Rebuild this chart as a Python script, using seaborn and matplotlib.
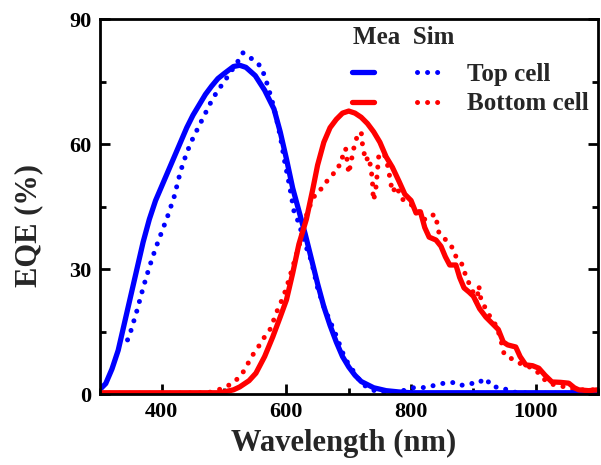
import matplotlib
matplotlib.use("Agg")
import matplotlib.pyplot as plt
from matplotlib.lines import Line2D
from matplotlib.ticker import MultipleLocator
import seaborn as sns
import pandas as pd

# Top cell, measured EQE
top_mea_wl = [300, 310, 320, 330, 340, 350, 360, 370, 380, 390, 400, 410, 420, 430, 440,
              450, 460, 470, 480, 490, 500, 515, 525, 535, 550, 565, 580, 590, 600, 610,
              620, 630, 640, 650, 660, 670, 680, 690, 700, 710, 720, 740, 760, 780, 800,
              900, 1000, 1100]
top_mea_eqe = [1, 2.5, 6, 10.5, 17, 23.5, 30, 36.5, 42, 46.5, 50, 53.5, 57, 60.5, 64,
               67, 69.5, 72, 74, 75.8, 77, 78.7, 79, 78.5, 76.5, 73, 68.5, 63, 56.5, 49.5,
               44, 38.5, 32.5, 26.5, 21, 16.5, 12.5, 9, 6.5, 4.5, 3, 1.5, 0.8, 0.5, 0.3,
               0.3, 0.3, 0.3]

# Top cell, simulated EQE
top_sim_wl = [345, 350, 360, 370, 380, 390, 400, 410, 420, 430, 440, 450, 460, 470, 480,
              490, 500, 510, 520, 530, 540, 550, 560, 568, 576, 582, 590, 597, 605, 612,
              620, 630, 640, 650, 660, 670, 680, 690, 700, 710, 720, 736, 752, 770, 793,
              808, 824, 840, 853, 866, 879, 893, 906, 919, 931, 946, 960, 980, 1000, 1100]
top_sim_eqe = [13, 15, 20, 25.5, 30.5, 35, 39, 43, 47.5, 53.5, 58, 61.5, 64.5, 67.5, 70.5,
               73, 75, 77.3, 79.4, 82, 81, 80, 78.5, 75, 71, 67.5, 62, 56, 50, 44,
               41, 36, 32, 25.5, 21, 17.5, 14, 10, 7, 5, 2.6, 1, 0.5, 0.3, 1,
               1.7, 1.5, 2.2, 2.6, 2.8, 2, 2.6, 2.4, 3.8, 1.7, 1.6, 0.5, 0.3, 0.2, 0.2]

# Bottom cell, measured EQE
bot_mea_wl = [300, 400, 490, 500, 515, 525, 540, 551, 565, 578, 590, 600, 610, 620, 632,
              642, 650, 660, 670, 680, 690, 700, 710, 720, 730, 740, 750, 760, 770, 781,
              790, 800, 808, 815, 822, 829, 840, 848, 855, 862, 872, 878, 885, 893, 900,
              910, 920, 930, 940, 948, 955, 968, 975, 984, 995, 1005, 1015, 1026, 1040,
              1053, 1062, 1069, 1085, 1100]
bot_mea_eqe = [0.3, 0.3, 0.3, 0.5, 1, 1.7, 3.2, 5, 9, 13.7, 18.5, 22.6, 29, 36, 42,
               49, 55, 60.5, 64, 66, 67.5, 68, 67.5, 66.5, 65, 63, 60.5, 57, 54.5, 51,
               48, 46.5, 43.5, 43.8, 40, 37.7, 37, 35.5, 33, 31, 31, 28, 25.5, 24.5, 23.5,
               20.5, 18.5, 17, 15.5, 12.5, 11.8, 11.3, 9, 7, 6.8, 6.2, 4.5, 2.9, 2.8,
               2.6, 1.5, 1, 0.8, 1]

# Bottom cell, simulated EQE
bot_sim_wl = [300, 400, 470, 481, 498, 514, 528, 537, 546, 557, 566, 576, 581, 588, 594,
              600, 605, 613, 621, 629, 634, 640, 648, 658, 664, 674, 680, 687, 690, 695,
              700, 704, 708, 713, 720, 722, 727, 732, 736, 738, 739, 740, 744, 748, 756,
              761, 766, 770, 777, 784, 795, 805, 813, 820, 828, 835, 840, 842, 845, 856,
              862, 869, 872, 880, 885, 887, 895, 901, 905, 909, 910, 914, 920, 925, 930,
              938, 944, 949, 955, 960, 970, 980, 990, 1000, 1010, 1021, 1035, 1048, 1064,
              1080, 1100]
bot_sim_eqe = [0.2, 0.2, 0.3, 0.5, 1.4, 2.6, 4.6, 7, 9.4, 11.8, 14, 16, 18.5, 21, 23,
               25.5, 28, 32, 36, 41, 44, 46, 48.5, 49.5, 51, 52.5, 54.5, 55, 57, 59,
               53, 56, 59, 61.7, 63, 60, 56, 57, 54, 51, 48, 46.5, 50, 57, 58,
               56, 52, 48.5, 50, 47, 46, 45, 43.7, 42, 42, 43, 43, 40.6, 38.6, 37,
               36, 34.6, 33, 31.5, 30.5, 28.5, 26, 24, 22, 26, 24, 22, 20.5, 19, 18,
               16, 13, 9.8, 9.5, 8.6, 7.7, 7, 6.5, 5.8, 4, 2.6, 2, 1.7, 1,
               1, 1]

BLUE = "#0000ff"
RED = "#ff0000"
FONT = "Liberation Serif"

sns.set_theme(style="ticks")
plt.rcParams["font.family"] = [FONT, "DejaVu Serif"]
plt.rcParams["font.weight"] = "bold"

fig = plt.figure(figsize=(6.01, 4.65), dpi=100)
ax = fig.add_axes([99.5 / 601, 1 - 394 / 465, (598 - 99.5) / 601, (394 - 19.5) / 465])

dot_style = dict(lw=3.6, linestyle=(0, (0.01, 2.0)), dash_capstyle="round")
solid_style = dict(lw=3.8, solid_capstyle="round")

frames = {
    "top_mea": pd.DataFrame({"wl": top_mea_wl, "eqe": top_mea_eqe}),
    "top_sim": pd.DataFrame({"wl": top_sim_wl, "eqe": top_sim_eqe}),
    "bot_mea": pd.DataFrame({"wl": bot_mea_wl, "eqe": bot_mea_eqe}),
    "bot_sim": pd.DataFrame({"wl": bot_sim_wl, "eqe": bot_sim_eqe}),
}

sns.lineplot(data=frames["top_sim"], x="wl", y="eqe", color=BLUE, ax=ax, sort=False, **dot_style)
sns.lineplot(data=frames["bot_sim"], x="wl", y="eqe", color=RED, ax=ax, sort=False, **dot_style)
sns.lineplot(data=frames["top_mea"], x="wl", y="eqe", color=BLUE, ax=ax, sort=False, **solid_style)
sns.lineplot(data=frames["bot_mea"], x="wl", y="eqe", color=RED, ax=ax, sort=False, **solid_style)

ax.set_xlim(300, 1100)
ax.set_ylim(0, 90)
ax.set_xticks([400, 600, 800, 1000])
ax.xaxis.set_minor_locator(MultipleLocator(100))
ax.yaxis.set_major_locator(MultipleLocator(30))
ax.yaxis.set_minor_locator(MultipleLocator(15))
ax.tick_params(which="both", direction="in", width=2, right=True, top=False,
               labelsize=16, pad=6, colors="black")
ax.tick_params(which="major", length=7)
ax.tick_params(which="minor", length=4.5)
for lab in ax.get_xticklabels() + ax.get_yticklabels():
    lab.set_fontweight("bold")
for sp in ax.spines.values():
    sp.set_visible(True)
    sp.set_linewidth(2)
    sp.set_color("black")

ax.set_xlabel("Wavelength (nm)", fontsize=22, fontweight="bold")
ax.xaxis.set_label_coords(0.4895, -0.094)
ax.set_ylabel("EQE (%)", fontsize=22, fontweight="bold")
ax.yaxis.set_label_coords(-0.113, 0.449)

# Column headers: measured / simulated
ax.text(0.5085, 0.953, "Mea  Sim", transform=ax.transAxes, ha="left", va="center",
        fontsize=18, fontweight="bold", family=FONT)

handles = [
    Line2D([], [], color=BLUE, **solid_style),
    Line2D([], [], color=RED, **solid_style),
    Line2D([], [], color=BLUE, **dot_style),
    Line2D([], [], color=RED, **dot_style),
]
labels = ["", "", "Top cell", "Bottom cell"]
leg = ax.legend(handles, labels, ncol=2, frameon=False, loc="upper left",
                bbox_to_anchor=(0.506, 0.884),
                prop={"family": FONT, "weight": "bold", "size": 18},
                handlelength=0.9, handletextpad=1.1, columnspacing=0.6,
                labelspacing=0.26, borderaxespad=0.0, borderpad=0.0)

fig.savefig("out.png", dpi=100)
